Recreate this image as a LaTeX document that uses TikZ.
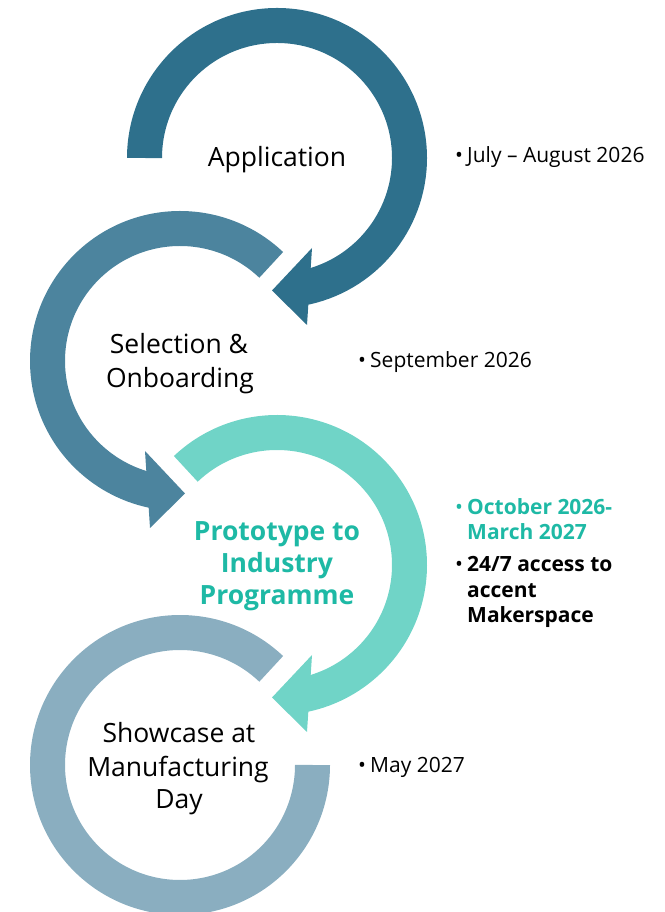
\documentclass[tikz,border=0pt]{standalone}
\usepackage{fontspec}
\setmainfont{Open Sans}
\definecolor{colA}{RGB}{46,112,140}
\definecolor{colB}{RGB}{76,132,158}
\definecolor{colC}{RGB}{112,212,199}
\definecolor{colD}{RGB}{138,174,192}
\definecolor{tealtxt}{RGB}{30,185,165}
\begin{document}
\begin{tikzpicture}[x=1pt,y=1pt,
  ring/.style={line width=35pt},
  big/.style={font=\fontsize{26.5}{34}\selectfont, anchor=base, inner sep=0pt},
  bigb/.style={font=\fontsize{26.5}{32}\selectfont\bfseries, text=tealtxt, anchor=base, inner sep=0pt},
  side/.style={font=\fontsize{21}{25}\selectfont, anchor=base west, inner sep=0pt},
  sideb/.style={font=\fontsize{21}{25}\selectfont\bfseries, anchor=base west, inner sep=0pt},
  bul/.style={font=\fontsize{21}{25}\selectfont, anchor=base, inner sep=0pt},
]
\useasboundingbox (0,0) rectangle (664,912);
\coordinate (c1) at (277,754);
\coordinate (c2) at (180,551);
\coordinate (c3) at (277,347);
\coordinate (c4) at (180,147);

% circle 1
\begin{scope}[shift={(c1)}]
  \draw[ring, colA] (180:132.5) arc[start angle=180, end angle=-80, radius=132.5];
  \fill[colA] (35,-90) -- (-5,-132.5) -- (30,-167) -- cycle;
\end{scope}
% circle 2 (mirrored)
\begin{scope}[shift={(c2)}, xscale=-1]
  \draw[ring, colB] (133.5:132.5) arc[start angle=133.5, end angle=-80, radius=132.5];
  \fill[colB] (35,-90) -- (-5,-132.5) -- (30,-167) -- cycle;
\end{scope}
% circle 3
\begin{scope}[shift={(c3)}]
  \draw[ring, colC] (133.5:132.5) arc[start angle=133.5, end angle=-80, radius=132.5];
  \fill[colC] (35,-90) -- (-5,-132.5) -- (30,-167) -- cycle;
\end{scope}
% circle 4
\begin{scope}[shift={(c4)}]
  \draw[ring, colD] (46.5:132.5) arc[start angle=46.5, end angle=360, radius=132.5];
\end{scope}

% labels in circles
\node[big] (t1) at (277,745) {Application};
\node[big] (t2a) at (179,558) {Selection \&};
\node[big] (t2b) at (180,524) {Onboarding};
\node[bigb] (t3a) at (277,371) {Prototype to};
\node[bigb] (t3b) at (277,339) {Industry};
\node[bigb] (t3c) at (277,307) {Programme};
\node[big] (t4a) at (179,169) {Showcase at};
\node[big] (t4b) at (178,135) {Manufacturing};
\node[big] (t4c) at (179,103) {Day};

% side texts
\node[bul] (b1) at (459,749) {•};
\node[side] (s1) at (467,749) {July – August 2026};
\node[bul] (b2) at (362,544) {•};
\node[side] (s2) at (370,544) {September 2026};
\node[bul, text=tealtxt] (b3) at (459,397) {•};
\node[sideb, text=tealtxt] (s3a) at (467,397) {October 2026-};
\node[sideb, text=tealtxt] (s3b) at (467,372) {March 2027};
\node[bul] (b4) at (459,340) {•};
\node[sideb] (s4a) at (467,340) {24/7 access to};
\node[sideb] (s4b) at (467,314) {accent};
\node[sideb] (s4c) at (467,289) {Makerspace};
\node[bul] (b5) at (362,139) {•};
\node[side] (s5) at (370,139) {May 2027};
\end{tikzpicture}
\end{document}
